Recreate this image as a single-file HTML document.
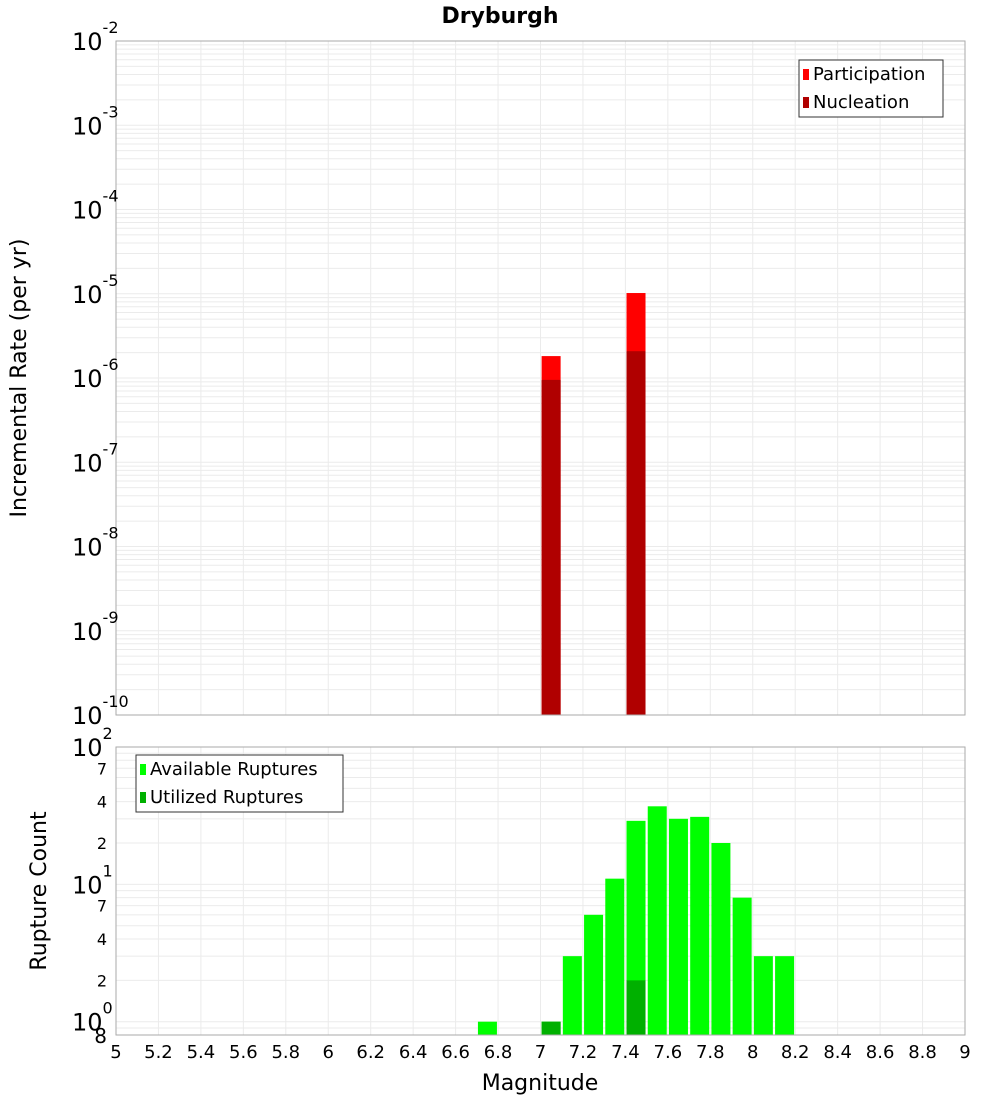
<!DOCTYPE html>
<html><head><meta charset="utf-8"><style>
body{margin:0;background:#fff}
svg text{font-family:"DejaVu Sans","Liberation Sans",sans-serif;fill:#000}
</style></head><body>
<svg id="chart" width="1000" height="1100" xmlns="http://www.w3.org/2000/svg">
<text x="500" y="23" text-anchor="middle" font-size="22" font-weight="bold">Dryburgh</text>
<g id="g"></g>
</svg>
<script>
// data
const topMags = [7.05, 7.45];
const participation = [1.82e-6, 1.02e-5];
const nucleation = [9.5e-7, 2.08e-6];
const botMags = [6.75, 7.05, 7.15, 7.25, 7.35, 7.45, 7.55, 7.65, 7.75, 7.85, 7.95, 8.05, 8.15];
const available = [1, 1, 3, 6, 11, 29, 37, 30, 31, 20, 8, 3, 3];
const utilMags = [7.05, 7.45];
const utilized = [1, 2];
const xTicks = [5,5.2,5.4,5.6,5.8,6,6.2,6.4,6.6,6.8,7,7.2,7.4,7.6,7.8,8,8.2,8.4,8.6,8.8,9];
const topExps = [-2,-3,-4,-5,-6,-7,-8,-9,-10];
const botExps = [2,1,0];
const botMinorLabels = [2,4,7];

const NS="http://www.w3.org/2000/svg";
const g=document.getElementById('g');
function el(tag,attrs,parent){const e=document.createElementNS(NS,tag);for(const k in attrs)e.setAttribute(k,attrs[k]);(parent||g).appendChild(e);return e;}
const L=116,R=965,T1=41,B1=715,T2=747,B2=1035;
const x=m=>L+(m-5)/4*(R-L);
const y1=v=>T1+(-2-Math.log10(v))*(B1-T1)/8;
const botMin=0.8;
const y2=v=>T2+(2-Math.log10(v))*(B2-T2)/(2-Math.log10(botMin));
const bw=19;

// backgrounds
let r=el('rect',{x:L,y:T1,width:R-L,height:B1-T1,fill:'#fff'});


r=el('rect',{x:L,y:T2,width:R-L,height:B2-T2,fill:'#fff'});



// grids
for(const t of xTicks){
  for(const [a,b] of [[T1,B1],[T2,B2]]){
    const ln=el('line',{x1:x(t),x2:x(t),y1:a,y2:b,stroke:'#ebebeb','stroke-width':1});
    
    
  }
}
for(let e=-10;e<-2;e++){for(let k=1;k<10;k++){const v=k*Math.pow(10,e);
  const ln=el('line',{x1:L,x2:R,y1:y1(v),y2:y1(v),stroke:'#ebebeb','stroke-width':1});
  
  }}
for(let e=-1;e<2;e++){for(let k=1;k<10;k++){const v=k*Math.pow(10,e);if(v<botMin)continue;
  const ln=el('line',{x1:L,x2:R,y1:y2(v),y2:y2(v),stroke:'#ebebeb','stroke-width':1});
  
  }}

// top bars
topMags.forEach((m,i)=>{
  let b=el('rect',{x:x(m)-bw/2,y:y1(participation[i]),width:bw,height:B1-y1(participation[i]),fill:'#ff0000'});
  
  
  b=el('rect',{x:x(m)-bw/2,y:y1(nucleation[i]),width:bw,height:B1-y1(nucleation[i]),fill:'#b00000'});
  
  
});
// bottom bars
botMags.forEach((m,i)=>{
  const b=el('rect',{x:x(m)-bw/2,y:y2(available[i]),width:bw,height:B2-y2(available[i]),fill:'#00ff00'});
  
  
});
utilMags.forEach((m,i)=>{
  const b=el('rect',{x:x(m)-bw/2,y:y2(utilized[i]),width:bw,height:B2-y2(utilized[i]),fill:'#00b000'});
  
  
});

// borders
r=el('rect',{x:L,y:T1,width:R-L,height:B1-T1,fill:'none',stroke:'#aaa'});


r=el('rect',{x:L,y:T2,width:R-L,height:B2-T2,fill:'none',stroke:'#aaa'});



// y labels
function powLabel(yy,exp,name){
  const t=el('text',{x:112,y:yy+9,'text-anchor':'end','font-size':24});
  
  
  const a=el('tspan',{},t);a.textContent='10';
  const s=el('tspan',{'font-size':16,dy:-17},t);s.textContent=String(exp);
  t.setAttribute('x',72);t.setAttribute('text-anchor','start');
}
topExps.forEach(e=>powLabel(y1(Math.pow(10,e)),e,'top-y-tick-label'));
botExps.forEach(e=>powLabel(y2(Math.pow(10,e)),e,'bottom-y-tick-label'));
for(let e=0;e<2;e++)botMinorLabels.forEach(k=>{
  const t=el('text',{x:107,y:y2(k*Math.pow(10,e))+6,'text-anchor':'end','font-size':16});
  t.textContent=k;
  
  
});
let t8=el('text',{x:107,y:B2+8,'text-anchor':'end','font-size':20});t8.textContent='8';



// x labels
xTicks.forEach(tk=>{
  const t=el('text',{x:x(tk),y:1058,'text-anchor':'middle','font-size':18});
  t.textContent=String(tk);
  
  
});
let xt=el('text',{x:540,y:1090,'text-anchor':'middle','font-size':22});xt.textContent='Magnitude';


let yt=el('text',{x:0,y:0,'text-anchor':'middle','font-size':22,transform:'translate(26,378) rotate(-90)'});yt.textContent='Incremental Rate (per yr)';


yt=el('text',{x:0,y:0,'text-anchor':'middle','font-size':22,transform:'translate(46,891) rotate(-90)'});yt.textContent='Rupture Count';



// legends
function legend(x0,y0,w,items,name){
  const grp=el('g',{});
  
  
  el('rect',{x:x0,y:y0,width:w,height:57,fill:'#fff',stroke:'#333'},grp);
  items.forEach((it,i)=>{
    const sw=el('rect',{x:x0+4,y:y0+9+i*28,width:6,height:11,fill:it[1]},grp);
    
    
    const t=el('text',{x:x0+14,y:y0+20+i*28,'font-size':18},grp);t.textContent=it[0];
    
    
  });
}
legend(799,60,144,[['Participation','#ff0000'],['Nucleation','#b00000']],'top-legend');
legend(136,755,207,[['Available Ruptures','#00ff00'],['Utilized Ruptures','#00b000']],'bottom-legend');
</script>
</body></html>
